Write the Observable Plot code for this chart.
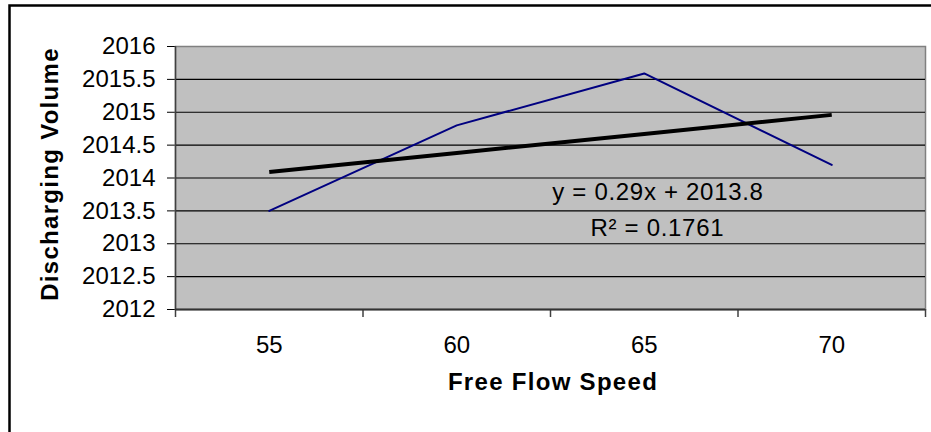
<!DOCTYPE html>
<html>
<head>
<meta charset="utf-8">
<script src="https://cdn.jsdelivr.net/npm/d3@7"></script>
<script src="https://cdn.jsdelivr.net/npm/@observablehq/plot@0.6"></script>
<style>
  html, body { margin: 0; padding: 0; background: #fff; }
  #chart svg { display: block; }
</style>
</head>
<body>
<div id="chart"></div>
<script>
const categories = ["55", "60", "65", "70"];
const volume = [2013.5, 2014.8, 2015.59, 2014.2];
const trend = [2014.09, 2014.38, 2014.67, 2014.96];
const yTicks = [2012, 2012.5, 2013, 2013.5, 2014, 2014.5, 2015, 2015.5, 2016];
const xTitle = "Free Flow Speed";
const yTitle = "Discharging Volume";
const equation = "y = 0.29x + 2013.8";
const rSquared = "R\u00B2 = 0.1761";

const rows = categories.map((c, i) => ({idx: i + 1, cat: c, v: volume[i], t: trend[i]}));
const boundaries = categories.map((c, i) => i + 1.5);

const font = "'Liberation Sans', Arial, sans-serif";

const chart = Plot.plot({
  width: 931,
  height: 432,
  marginLeft: 175,
  marginRight: 6,
  marginTop: 46,
  marginBottom: 123,
  style: {fontFamily: font, fontSize: "24px", color: "#000", background: "#fff", overflow: "visible"},
  x: {
    type: "linear",
    domain: [0.5, categories.length + 0.5],
    ticks: rows.map(d => d.idx),
    tickFormat: i => categories[i - 1],
    tickSize: 0,
    tickPadding: 26,
    label: null
  },
  y: {
    domain: [yTicks[0], yTicks[yTicks.length - 1]],
    ticks: yTicks,
    tickFormat: d => String(d),
    tickSize: 8,
    tickPadding: 12,
    label: null
  },
  marks: [
    // outer chart border
    Plot.frame({insetLeft: -166, insetTop: -41, insetRight: -40, insetBottom: -200, stroke: "#000", strokeWidth: 2.5, fill: "none"}),
    // plot area
    Plot.frame({fill: "#c0c0c0", stroke: "#808080", strokeWidth: 1.5}),
    Plot.ruleY(yTicks.slice(1, -1), {stroke: "#000", strokeWidth: 1.2}),
    // category boundary ticks
    Plot.ruleX(boundaries, {y1: yTicks[0], y2: yTicks[0], insetBottom: -8, stroke: "#404040", strokeWidth: 1.5}),
    // axis lines
    Plot.ruleX([0.5], {insetBottom: -8, stroke: "#404040", strokeWidth: 1.5}),
    Plot.ruleY([yTicks[0]], {stroke: "#333", strokeWidth: 2}),
    // series
    Plot.line(rows, {x: "idx", y: "v", stroke: "#000080", strokeWidth: 2}),
    Plot.line(rows, {x: "idx", y: "t", stroke: "#000", strokeWidth: 4, strokeLinecap: "butt"}),
    // trendline labels
    Plot.text([equation], {x: 3.073, y: 2013.784, text: d => d, fontSize: 24, fill: "#000"}),
    Plot.text([rSquared], {x: 3.07, y: 2013.235, text: d => d, fontSize: 24, fill: "#000"}),
    // axis titles
    Plot.text([xTitle], {frameAnchor: "bottom", text: d => d, dy: 80, dx: 2.5, fontSize: 24, fontWeight: "bold", fill: "#000"}),
    Plot.text([yTitle], {frameAnchor: "left", textAnchor: "middle", text: d => d, rotate: -90, dx: -125, dy: -4, fontSize: 24, fontWeight: "bold", fill: "#000"})
  ]
});

chart.querySelectorAll("text").forEach(t => {
  const s = t.textContent;
  if (s === xTitle || s === yTitle) t.setAttribute("letter-spacing", "1.3");
  if (s === equation || s === rSquared) t.setAttribute("letter-spacing", "0.7");
});
document.getElementById("chart").appendChild(chart);
</script>
</body>
</html>
